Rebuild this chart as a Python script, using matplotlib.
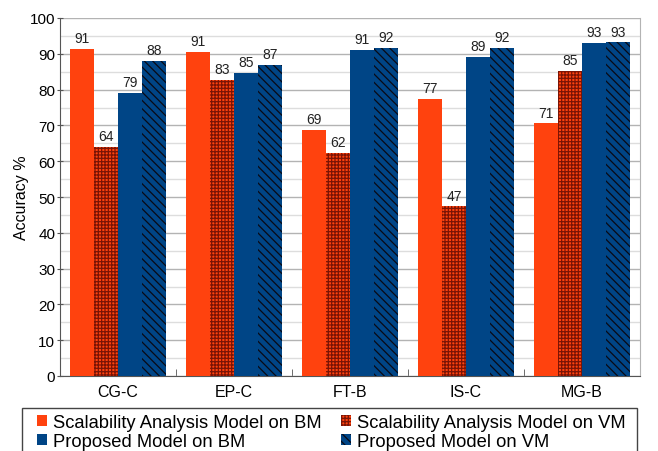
import matplotlib
matplotlib.use("Agg")
import matplotlib.pyplot as plt
from matplotlib.patches import Rectangle
import numpy as np

plt.rcParams['font.family'] = ['Liberation Sans', 'DejaVu Sans']

categories = ["CG-C", "EP-C", "FT-B", "IS-C", "MG-B"]
series_names = [
    "Scalability Analysis Model on BM",
    "Scalability Analysis Model on VM",
    "Proposed Model on BM",
    "Proposed Model on VM",
]
sam_bm = [91.4, 90.6, 68.8, 77.4, 70.6]
sam_vm = [64.0, 82.7, 62.3, 47.4, 85.3]
prop_bm = [79.1, 84.7, 91.2, 89.2, 93.1]
prop_vm = [88.1, 86.9, 91.7, 91.7, 93.2]
y_ticks = list(range(0, 101, 10))

series = [sam_bm, sam_vm, prop_bm, prop_vm]
faces = ["#FF420E", "#FF420E", "#004586", "#004586"]
hatches = [None, "+++++", None, "\\\\\\\\"]
hatch_colors = [None, "#7A1405", None, "#0A0A14"]

W, H = 658, 452
fig = plt.figure(figsize=(W / 100, H / 100), dpi=100)
ax = fig.add_axes([60 / W, 1 - 377 / H, 580 / W, 358 / H])

x = np.arange(len(categories))
width = 0.207
offsets = (np.arange(4) - 1.5) * width

plt.rcParams['hatch.linewidth'] = 0.9
handles = []
for i, vals in enumerate(series):
    kw = dict(color=faces[i], linewidth=0, zorder=3, label=series_names[i])
    if hatches[i]:
        kw.update(hatch=hatches[i], edgecolor=hatch_colors[i])
    bars = ax.bar(x + offsets[i], vals, width, **kw)
    handles.append(bars)
    for b, v in zip(bars, vals):
        ax.text(b.get_x() + b.get_width() / 2, v + 1.0, f"{v:.0f}",
                ha="center", va="bottom", fontsize=10, color="#222222", zorder=4)

ax.set_xlim(-0.5, len(categories) - 0.5)
ax.set_ylim(0, 100)
ax.set_yticks(y_ticks)
ax.set_yticks(range(5, 100, 10), minor=True)
ax.set_xticks(x)
ax.set_xticklabels(categories, fontsize=11.5)
ax.set_xticks(np.arange(len(categories) + 1) - 0.5, minor=True)
ax.tick_params(axis="x", which="major", length=0, pad=6)
ax.tick_params(axis="x", which="minor", length=5, color="#555555", direction="in")
ax.tick_params(axis="y", which="major", labelsize=11, length=5, color="#555555",
               direction="inout", pad=1)
ax.tick_params(axis="y", which="minor", length=0)
ax.grid(axis="y", which="major", color="#B3B3B3", linewidth=1.0, zorder=0)
ax.grid(axis="y", which="minor", color="#DDDDDD", linewidth=1.0, zorder=0)
ax.set_ylabel("Accuracy %", fontsize=11.5)
ax.yaxis.set_label_coords(-31 / 580, 0.5)

ax.spines["top"].set_visible(False)
ax.spines["right"].set_color("#B3B3B3")
ax.spines["left"].set_color("#555555")
ax.spines["bottom"].set_color("#555555")

# legend frame
fig.patches.append(Rectangle((22 / W, -0.01), (637 - 22) / W, (H - 409) / H + 0.01,
                             transform=fig.transFigure, fill=False,
                             edgecolor="#444444", linewidth=1.0))

# ncol fills column-wise; reorder so rows read left to right
leg_order = [0, 2, 1, 3]
fig.legend(handles=[handles[k] for k in leg_order],
           labels=[series_names[k] for k in leg_order],
           ncol=2, loc="upper left", bbox_to_anchor=(37 / W, 1 - 415 / H),
           fontsize=13.2, frameon=False,
           handlelength=0.55, handleheight=0.55,
           handletextpad=0.3, columnspacing=1.1, borderpad=0,
           labelspacing=0.12, borderaxespad=0)

fig.savefig("out.png", dpi=100)
